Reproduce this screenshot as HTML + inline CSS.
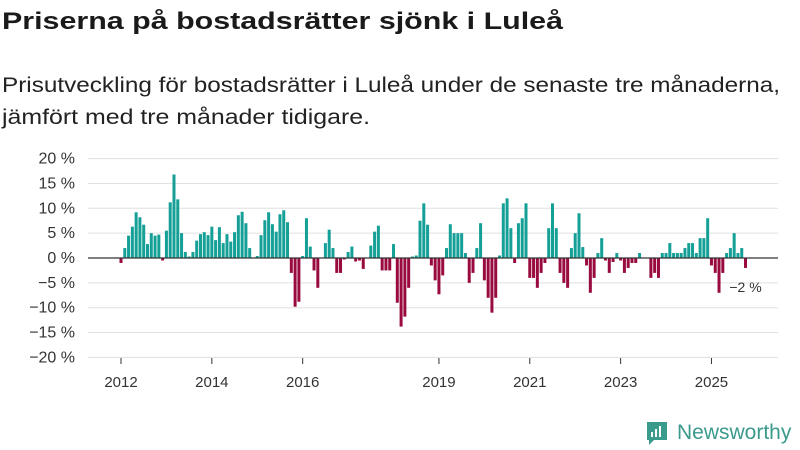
<!DOCTYPE html>
<html><head><meta charset="utf-8"><style>
body{margin:0;background:#fff;font-family:"Liberation Sans",sans-serif;}
#wrap{position:relative;width:800px;height:450px;overflow:hidden;}
</style></head><body>
<div id="wrap">
<svg width="800" height="140" style="position:absolute;left:0;top:0">
<text x="2" y="29" font-size="24" font-weight="bold" fill="#1a1a1a" textLength="561" lengthAdjust="spacingAndGlyphs" font-family="Liberation Sans, sans-serif">Priserna på bostadsrätter sjönk i Luleå</text>
<text x="2" y="92" font-size="21" fill="#222" textLength="778" lengthAdjust="spacingAndGlyphs" font-family="Liberation Sans, sans-serif">Prisutveckling för bostadsrätter i Luleå under de senaste tre månaderna,</text>
<text x="2" y="124" font-size="21" fill="#222" textLength="368" lengthAdjust="spacingAndGlyphs" font-family="Liberation Sans, sans-serif">jämfört med tre månader tidigare.</text>
</svg>
<svg id="chart" width="800" height="450" style="position:absolute;left:0;top:0;pointer-events:none"></svg>
</div>
<script>
const yTicks=[20,15,10,5,0,-5,-10,-15,-20];
const xTickYears=[2012,2014,2016,2019,2021,2023,2025];
const startYear=2012;
const values=[
-1,2,4.5,6.3,9.2,8.2,6.7,2.8,5,4.5,4.7,-0.5,
5.5,11.2,16.8,11.8,5,1.2,0.3,1.2,3.5,4.8,5.2,4.6,
6.3,3.6,6.2,3,4.8,3.3,5.2,8.6,9.3,7,2,0,
0.4,4.6,7.6,9.2,6.8,5.3,8.8,9.6,7.2,-3,
-9.8,-8.8,0.4,8,2.3,-2.5,-6,0,3,5.7,2,-3,-3,-0.3,1.2,2.3,-0.7,-0.5,-2.2,0,
2.5,5.3,6.5,-2.5,-2.5,-2.5,2.8,-9,-13.8,-11.8,-6,0.3,0.5,7.5,11,6.7,
-1.5,-4.5,-7.3,-3.5,2,6.8,5,5,5,1,
-5,-3,2,7,-4.5,-8,-11,-8,0.5,11,12,
6,-1,7,8,11,-4,-4,-6,-3,-1,6,11,
6,-3,-5,-6,2,5,9,2.2,
-1.5,-7,-4,1,4,-0.5,-3,-0.8,1,-0.5,-3,-2,-1,-1,1,0,0,-4,-3,-4,
1,1,3,1,1,1,2,3,3,1,4,4,8,-1.5,-3,-7,-3,1,2,5,1,2,-2
];
const lastLabel="−2 %";
const svg=document.getElementById('chart');
const NS='http://www.w3.org/2000/svg';
const yScale=v=>258-v*4.97;
const xScale=m=>121+m*3.785;
function mk(tag,attrs){const e=document.createElementNS(NS,tag);for(const k in attrs)e.setAttribute(k,attrs[k]);svg.appendChild(e);return e;}
yTicks.forEach(t=>{
  const g=mk('line',{x1:88,x2:778,y1:yScale(t),y2:yScale(t),stroke:'#e0e0e0','stroke-width':1});
  
  
  const tx=mk('text',{x:75,y:yScale(t)+5,'text-anchor':'end','font-size':16,fill:'#333','font-family':'Liberation Sans, sans-serif'});
  tx.textContent=(t<0?'−'+(-t):t)+' %';
  
  
});
values.forEach((v,i)=>{
  const x=xScale(i);
  const y0=yScale(0),y1=yScale(v);
  const r=mk('rect',{x:x-1.5,y:Math.min(y0,y1),width:3,height:Math.abs(y1-y0),fill:v>=0?'#14a096':'#990a3f'});
  
  
});
const z=mk('line',{x1:88,x2:778,y1:yScale(0),y2:yScale(0),stroke:'#333','stroke-width':1.3});


xTickYears.forEach(yr=>{
  const x=xScale((yr-startYear)*12);
  const l=mk('line',{x1:x,x2:x,y1:358,y2:364,stroke:'#333','stroke-width':1});
  
  
  const t=mk('text',{x:x,y:387,'text-anchor':'middle','font-size':15,fill:'#333','font-family':'Liberation Sans, sans-serif'});
  t.textContent=yr;
  
  
});
const last=values.length-1;
const lab=mk('text',{x:xScale(last),y:yScale(values[last])+24,'text-anchor':'middle','font-size':14,fill:'#333','font-family':'Liberation Sans, sans-serif'});
lab.textContent=lastLabel;


</script>
<div style="position:absolute;left:645px;top:420px;display:flex;align-items:center;">
<svg width="24" height="26"><path d="M2 2h20v18H9l-5 5v-5H2z" fill="#3a9a8c"/><rect x="6" y="12" width="2" height="5" fill="#fff"/><rect x="10" y="9" width="2" height="8" fill="#fff"/><rect x="14" y="6" width="2" height="11" fill="#fff"/></svg>
<span style="font-size:21px;color:#3a9a8c;margin-left:8px;">Newsworthy</span>
</div>
</body></html>
